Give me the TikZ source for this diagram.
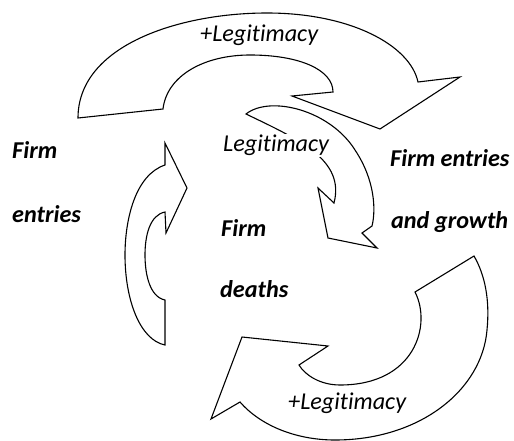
\documentclass[tikz,border=0pt]{standalone}
\usepackage{fontspec}
\setmainfont[Ligatures=NoCommon]{Carlito}
\begin{document}
\begin{tikzpicture}[x=1pt,y=-1pt,
  arrowshape/.style={draw=black,fill=white,line width=1.1pt,line join=miter},
  lbl/.style={font=\fontsize{24.2}{28}\selectfont\bfseries\itshape,anchor=base west,inner sep=0pt},
  leg/.style={font=\fontsize{24.2}{28}\selectfont\itshape,anchor=base west,inner sep=0pt}]
\useasboundingbox (0,0) rectangle (514,441);
% top arrow
\draw[arrowshape] (78,118) .. controls (78,45) and (180,13) .. (267,13)
  .. controls (350,13) and (410,45) .. (418,82)
  -- (460,77) -- (380,129) -- (292,96) -- (333,92)
  .. controls (333,70) and (300,55) .. (250,55)
  .. controls (205,55) and (167,75) .. (163,109) -- cycle;
% middle arrow
\draw[arrowshape] (246,114) .. controls (270,95) and (330,110) .. (355,150)
  .. controls (375,180) and (376,210) .. (372,226)
  -- (362,233) -- (377,248) -- (328,238) -- (318,188) -- (334,203)
  .. controls (345,160) and (300,140) .. (246,114) -- cycle;
% left arrow
\draw[arrowshape] (165,143) -- (187,188) -- (166,233) -- (165,212)
  .. controls (150,215) and (145,235) .. (145,255)
  .. controls (145,275) and (150,297) .. (165,300)
  -- (165,345)
  .. controls (140,340) and (125,300) .. (125,255)
  .. controls (125,220) and (135,175) .. (165,165) -- cycle;
% bottom arrow
\draw[arrowshape] (474,256) .. controls (485,275) and (490,300) .. (487,330)
  .. controls (482,390) and (420,440) .. (335,440)
  .. controls (295,440) and (260,425) .. (240,402)
  -- (211,419) -- (242,337) -- (328,346) -- (299,365)
  .. controls (305,375) and (320,385) .. (340,385)
  .. controls (415,385) and (432,325) .. (415,292) -- cycle;
% labels
\node[leg] (t1) at (200,42) {+Legitimacy};
\node[leg,fill=white,inner sep=1pt] (t2) at (222,152) {Legitimacy};
\node[leg] (t3) at (288,409) {+Legitimacy};
\node[lbl] (a1) at (12,159) {Firm};
\node[lbl] (a2) at (12,222) {entries};
\node[lbl] (b1) at (390,166) {Firm entries};
\node[lbl] (b2) at (391,228) {and growth};
\node[lbl] (c1) at (221,236) {Firm};
\node[lbl] (c2) at (220,297) {deaths};
\end{tikzpicture}
\end{document}
